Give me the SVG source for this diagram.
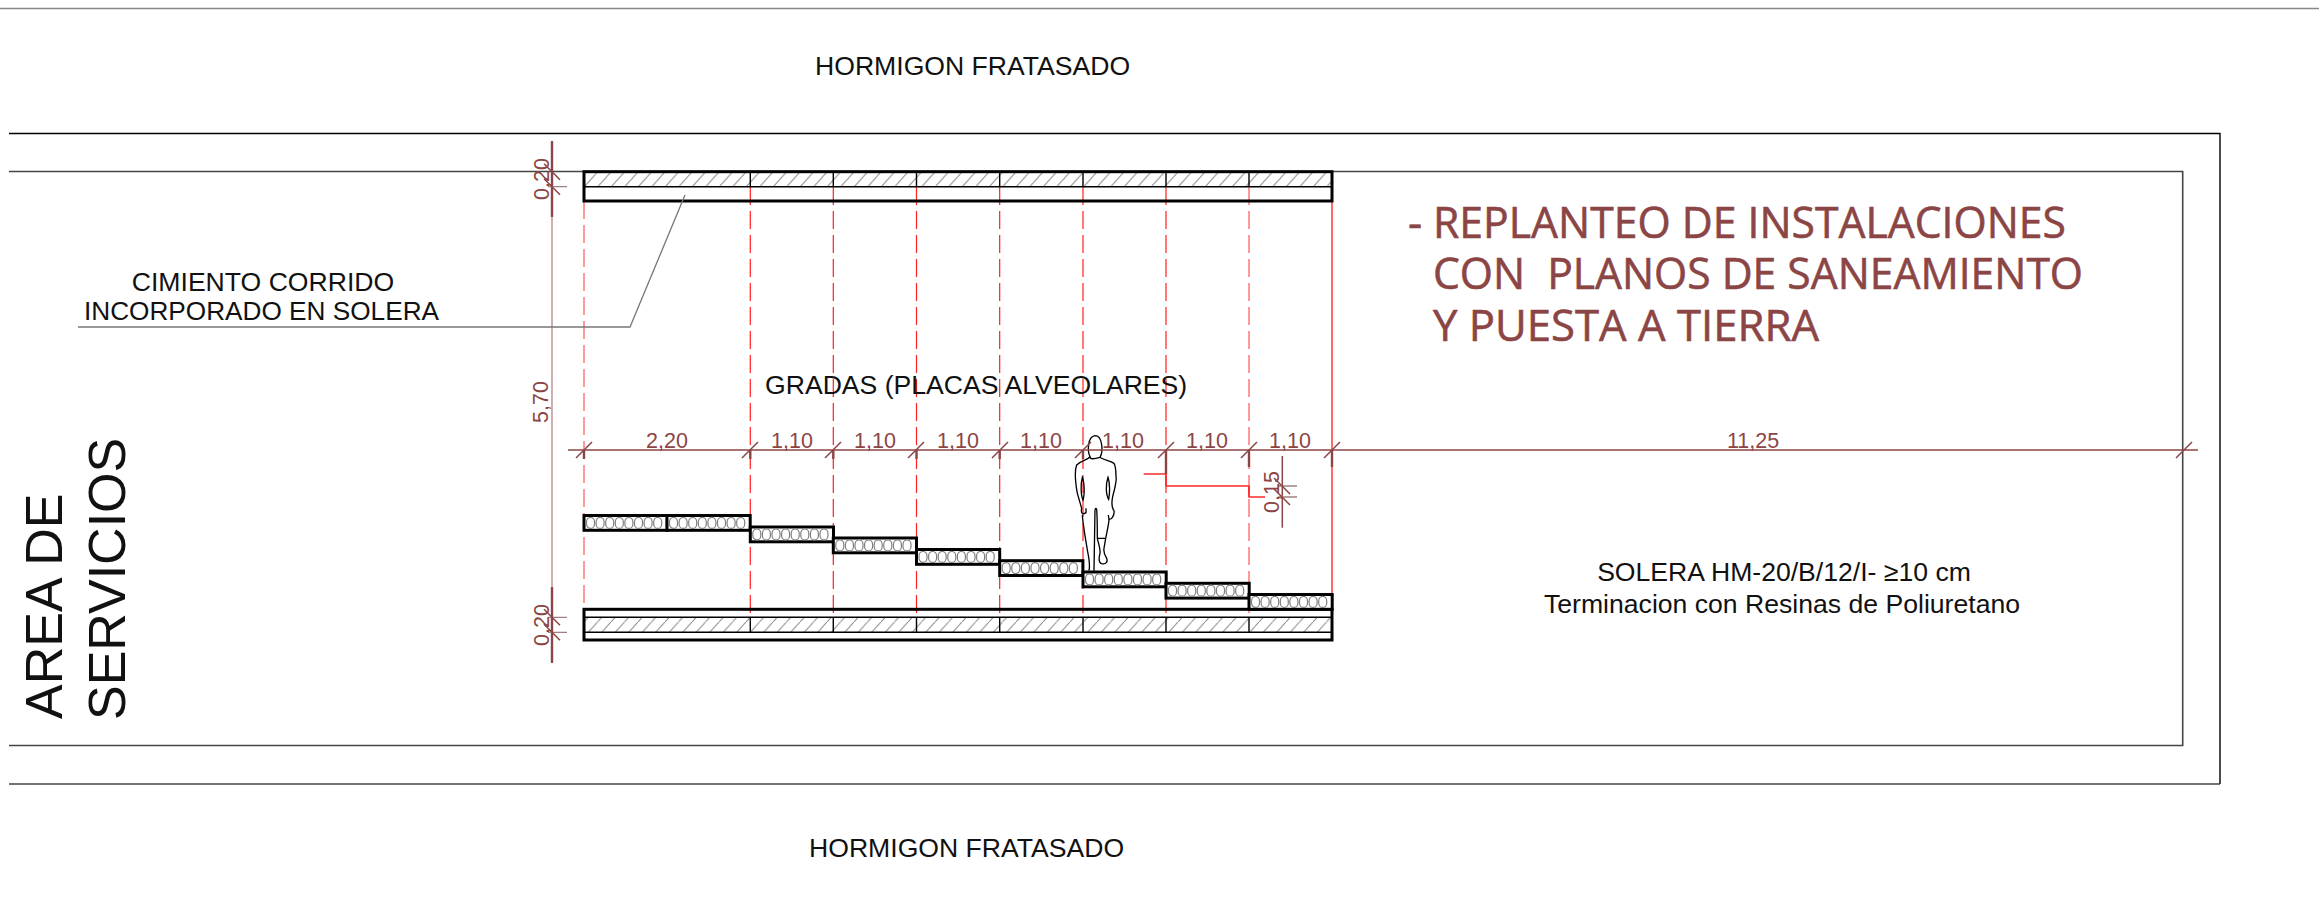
<svg xmlns="http://www.w3.org/2000/svg" width="2319" height="913" viewBox="0 0 2319 913">
<style>
text{font-family:"Liberation Sans",Arial,sans-serif}
.lb{font-size:26.6px;fill:#111}
.d{font-size:21.5px;fill:#8c4545;text-anchor:middle}
.r{font-family:"Open Sans","Noto Sans",sans-serif;font-size:44px;fill:#8c4545;stroke:#8c4545;stroke-width:.6}
.dl{stroke:#8c4545;stroke-width:1.5;fill:none}
.dk{stroke:#8c4545;stroke-width:2.4;fill:none}
.lt{stroke:#c49a9a;stroke-width:1.6;fill:none}
.tk{stroke:#a08080;stroke-width:1.3;fill:none}
.rd{stroke:#ff2020;stroke-width:1.2;fill:none;stroke-dasharray:18 6}
.rp{stroke:#ff8080;stroke-width:1.6;fill:none;stroke-dasharray:18 6}
.rs{stroke:#ff2a2a;stroke-width:1.4;fill:none}
.hv{stroke:#000;stroke-width:3;fill:#fff}
.th{stroke:#000;stroke-width:1.4;fill:none}
.ht{stroke:#8a8a8a;stroke-width:1;fill:none}
.gr{stroke:#444;stroke-width:1.6;fill:none}
.o{fill:none;stroke:#808080;stroke-width:1.2}
</style>
<defs>
<pattern id="hatch" patternUnits="userSpaceOnUse" width="13.5" height="15" x="584" y="172">
<path class="ht" d="M0 15L13.5 0"/>
</pattern>
<g id="slab">
<rect class="hv" x="0" y="0" width="83.2" height="14.8"/>
<g class="o">
<rect x="2.5" y="1.9" width="8" height="11" rx="4" ry="4.5"/><rect x="12.1" y="1.9" width="8" height="11" rx="4" ry="4.5"/><rect x="21.7" y="1.9" width="8" height="11" rx="4" ry="4.5"/><rect x="31.3" y="1.9" width="8" height="11" rx="4" ry="4.5"/><rect x="40.9" y="1.9" width="8" height="11" rx="4" ry="4.5"/><rect x="50.5" y="1.9" width="8" height="11" rx="4" ry="4.5"/><rect x="60.1" y="1.9" width="8" height="11" rx="4" ry="4.5"/><rect x="69.7" y="1.9" width="8" height="11" rx="4" ry="4.5"/>
</g>
</g>
</defs>

<g id="frame">
<path stroke="#888" stroke-width="1.6" fill="none" d="M0 8.5H2319"/>
<path class="th" d="M9 133.5H2220V784"/>
<path class="gr" d="M2220 784H9"/>
<path class="gr" d="M9 171.5H2182.7V745.5H9"/>
</g>

<g id="red-lines">
<path class="rp" d="M584 201V609M1249 187V617"/>
<path class="rd" d="M750.3 187V617M833.3 187V617M916.5 187V617M999.7 187V617M1083 187V617M1166 187V617"/>
<path class="rs" d="M1332 187V594"/>
<path class="rs" d="M1143.7 474H1166V486H1249V497H1265"/>
</g>

<g id="top-beam">
<rect x="584" y="172" width="748" height="15" fill="url(#hatch)"/>
<rect class="hv" x="584" y="171.7" width="748" height="29.3" style="fill:none"/>
<path class="th" d="M584 186.7H1332M750.3 172V187M833.3 172V187M916.5 172V187M999.7 172V187M1083 172V187M1166 172V187M1249 172V187"/>
</g>

<g id="bottom-beam">
<rect x="584" y="617" width="748" height="15" fill="url(#hatch)"/>
<rect class="hv" x="584" y="609.3" width="748" height="30.7" style="fill:none"/>
<path class="th" d="M584 617.3H1332M584 632.3H1332M750.3 617V632M833.3 617V632M916.5 617V632M999.7 617V632M1083 617V632M1166 617V632M1249 617V632"/>
</g>

<g id="steps">
<use href="#slab" x="584" y="515.5"/>
<use href="#slab" x="667" y="515.5"/>
<use href="#slab" x="750.3" y="527"/>
<use href="#slab" x="833.3" y="538"/>
<use href="#slab" x="916.5" y="549.5"/>
<use href="#slab" x="999.7" y="560.7"/>
<use href="#slab" x="1083" y="572"/>
<use href="#slab" x="1166" y="583.3"/>
<use href="#slab" x="1249" y="594.5"/>
</g>

<g id="person" transform="translate(1040 420) scale(.3333)" fill="none" stroke="#000" stroke-width="4">
<path d="M150 110C142 95 142 50 165 47C188 47 190 95 180 112C160 118 150 118 150 110Z"/>
<path d="M150 110C145 120 125 120 110 135C104 150 105 180 112 220C118 240 122 255 125 265C122 280 128 285 138 278L138 265M127 285C128 300 130 320 143 395C148 420 150 440 147 452M162 452C162 420 163 370 165 270Q168 262 170 268C172 290 172 330 172 355C176 375 182 385 180 400C176 415 176 428 185 431C198 434 204 425 200 415C194 405 190 395 192 385L197 355C202 330 207 310 207 298C215 300 224 285 222 272C214 262 216 240 218 230C226 200 230 175 228 170C228 150 225 135 222 130C210 122 190 120 180 112M172 355H197M207 298L205 285"/>
<path d="M127 172C122 190 122 225 129 240C134 225 134 190 127 172ZM204 172C196 195 198 225 206 238C210 220 210 190 204 172Z"/>
</g>

<g id="dimensions">
<path class="lt" d="M552 217V587"/>
<path class="dk" d="M552 141V217M552 587V663"/>
<path class="tk" d="M548 186.7H567M548 617.3H567M548 632.3H567"/>
<path class="dl" d="M544 163.7L560 179.7M544 178.7L560 194.7M544 609.3L560 625.3M544 624.3L560 640.3"/>
<path class="dl" d="M568 450H2198"/>
<path class="dl" d="M576 458L592 442M742 458L758 442M825 458L841 442M908 458L924 442M992 458L1008 442M1075 458L1091 442M1158 458L1174 442M1241 458L1257 442M1324 458L1340 442M2176 458L2192 442"/>
<path class="dk" d="M584 450V459M750.3 450V459M833.3 450V459M916.5 450V459M999.7 450V459M1083 450V459M1166 450V474M1249 450V467M1332 450V467"/>
<path class="rs" d="M1166 474V486M1249 486V497"/>
<path class="dl" d="M1282.3 456V527.7"/>
<path class="tk" d="M1278 486H1297M1278 497H1297"/>
<path class="dl" d="M1274 478L1290 494M1274 489L1290 505"/>
<text class="d" x="667" y="448">2,20</text>
<text class="d" x="792" y="448">1,10</text>
<text class="d" x="875" y="448">1,10</text>
<text class="d" x="958" y="448">1,10</text>
<text class="d" x="1041" y="448">1,10</text>
<text class="d" x="1123" y="448">1,10</text>
<text class="d" x="1207" y="448">1,10</text>
<text class="d" x="1290" y="448">1,10</text>
<text class="d" x="1753" y="448">11,25</text>
<text class="d" transform="translate(549 179) rotate(-90)">0,20</text>
<text class="d" transform="translate(549 625) rotate(-90)">0,20</text>
<text class="d" transform="translate(548 402) rotate(-90)">5,70</text>
<text class="d" transform="translate(1279 492) rotate(-90)">0,15</text>
</g>

<g id="leader">
<path stroke="#777" stroke-width="1.3" fill="none" d="M78 327H630L685 195"/>
</g>

<g id="labels">
<text class="lb" x="815" y="74.5">HORMIGON FRATASADO</text>
<text class="lb" x="809" y="857">HORMIGON FRATASADO</text>
<text class="lb" x="263" y="290.5" text-anchor="middle">CIMIENTO CORRIDO</text>
<text class="lb" x="84" y="320" textLength="355" lengthAdjust="spacingAndGlyphs">INCORPORADO EN SOLERA</text>
<text class="lb" x="765" y="394">GRADAS (PLACAS ALVEOLARES)</text>
<text class="lb" x="1784" y="580.5" text-anchor="middle">SOLERA HM-20/B/12/I- ≥10 cm</text>
<text class="lb" x="1782" y="613" text-anchor="middle">Terminacion con Resinas de Poliuretano</text>
<text x="0" y="0" font-size="52" fill="#111" transform="translate(61.5 719) rotate(-90)">AREA DE</text>
<text x="0" y="0" font-size="52" fill="#111" transform="translate(124.5 720) rotate(-90)">SERVICIOS</text>
</g>

<g id="note">
<text class="r" x="1408" y="238">-</text>
<text class="r" x="1433" y="238" textLength="633" lengthAdjust="spacingAndGlyphs">REPLANTEO DE INSTALACIONES</text>
<text class="r" x="1433" y="289" textLength="650" lengthAdjust="spacingAndGlyphs" xml:space="preserve">CON  PLANOS DE SANEAMIENTO</text>
<text class="r" x="1433" y="341" textLength="386" lengthAdjust="spacingAndGlyphs">Y PUESTA A TIERRA</text>
</g>
</svg>
